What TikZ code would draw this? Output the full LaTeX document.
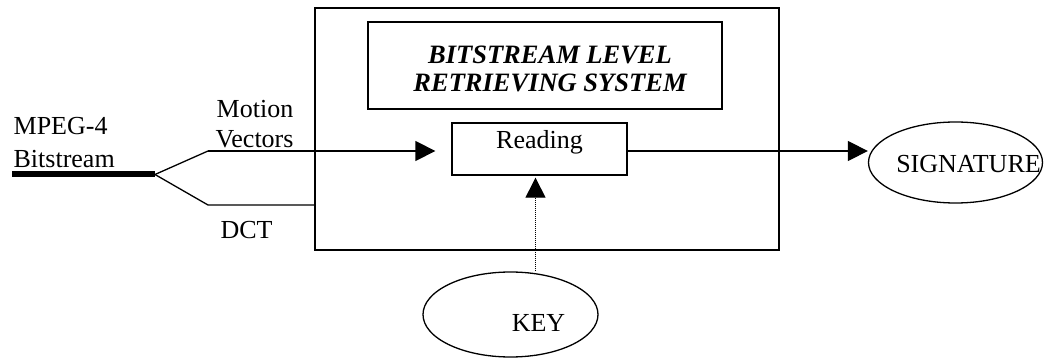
\documentclass[tikz,border=0pt]{standalone}
\usepackage{fontspec}
\setmainfont{Liberation Serif}
\usetikzlibrary{arrows.meta,shapes.geometric}
\begin{document}
\begin{tikzpicture}[x=1pt,y=-1pt, line width=1.3pt,
  every node/.style={font=\fontsize{26}{30}\selectfont},
  box/.style={draw, rectangle, inner sep=0pt},
  oval/.style={draw, ellipse, inner sep=0pt},
  arr/.style={-{Triangle[length=20pt,width=20pt]}},
  lbl/.style={inner sep=0pt, anchor=base west},
  clbl/.style={inner sep=0pt, anchor=base}]
\useasboundingbox (0,0) rectangle (1047,358);
% boxes
\node[box, minimum width=464pt, minimum height=242pt] (sys) at (547,129) {};
\node[box, minimum width=354pt, minimum height=87pt,
      label={[align=center, inner sep=0pt, xshift=5pt, yshift=-3.5pt,
              font=\fontsize{26.5}{28}\selectfont\bfseries\itshape]center:BITSTREAM LEVEL\\RETRIEVING SYSTEM}]
      (title) at (545,65.5) {};
\node[box, minimum width=175pt, text height=26pt, text depth=26pt] (read) at (539.5,149) {Reading};
\node[oval, minimum width=174pt, minimum height=81pt,
      label={[xshift=13pt, yshift=-2pt]center:SIGNATURE}] (sig) at (955.5,162.5) {};
\node[oval, minimum width=175pt, minimum height=85pt,
      label={[xshift=28pt, yshift=-8.5pt]center:KEY}] (key) at (510.5,314.5) {};
% texts
\node[lbl] (mpeg) at (13,135) {MPEG-4};
\node[lbl] (bits) at (13,168) {Bitstream};
\node[clbl] (mot) at (255,118) {Motion};
\node[clbl] (vec) at (254.5,148) {Vectors};
\node[clbl] (dct) at (246.5,239) {DCT};
% connectors
\coordinate (src) at (12,174.5);
\coordinate (split) at (155,174.5);
\coordinate (mvb) at (208,151);
\coordinate (dctb) at (208,205);
\draw[line width=6pt] (src) -- (split);
\draw (split) -- (mvb);
\draw[arr, shorten >=16pt] (mvb) -- (mvb -| read.west);
\draw (split) -- (dctb) -- (dctb -| sys.west);
\draw[arr] ([yshift=-2pt]read.east) -- ([yshift=-2pt]read.east -| sig.west);
\draw[arr, dash pattern=on 1pt off 1pt, line width=1pt, shorten >=2pt]
  ([xshift=-4pt]read.south |- key.north) -- ([xshift=-4pt]read.south);
\end{tikzpicture}
\end{document}
